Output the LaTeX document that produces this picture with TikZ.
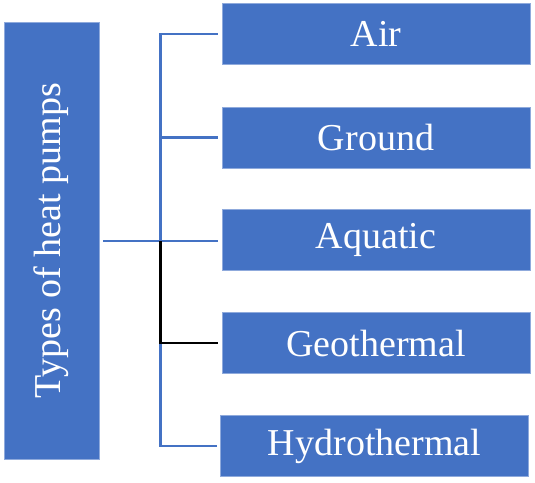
\documentclass[tikz,border=0pt]{standalone}
\usepackage{fontspec}
\setmainfont{Liberation Serif}
\definecolor{obl}{HTML}{4472C4}
\begin{document}
\begin{tikzpicture}[x=1pt,y=-1pt,
  box/.style={rectangle,fill=obl,draw=obl!60!white,line width=0.6pt,inner sep=0pt,text=white,font=\fontsize{38}{41}\selectfont},
  rbox/.style={box,minimum width=308pt,minimum height=61pt},
  conn/.style={draw=obl,line width=2.2pt},
  bconn/.style={draw=black,line width=2.2pt}]
\useasboundingbox (0,0) rectangle (535,482);
\node[box,minimum width=437pt,minimum height=95pt,rotate=90] (main) at (51.5,240.5) {Types of heat pumps};
\node[rbox] (air) at (376,34) {Air};
\node[rbox] (ground) at (376,137.5) {Ground};
\node[rbox] (aquatic) at (376,240) {Aquatic};
\node[rbox] (geo) at (376,343) {Geothermal};
\node[rbox] (hydro) at (374.5,446) {Hydrothermal};
\coordinate (j) at (160.5,241);
\draw[conn] ([xshift=51.5pt]main.center |- j) -- ([xshift=-4pt]aquatic.west |- j);
\draw[conn] ([xshift=-4pt]air.west) -| (j);
\draw[conn] ([xshift=-4pt]ground.west) -- (ground.west -| j);
\draw[conn] ([xshift=-3pt]hydro.west) -| (j);
\draw[bconn] ([xshift=-4pt]geo.west) -| (j);
\end{tikzpicture}
\end{document}
